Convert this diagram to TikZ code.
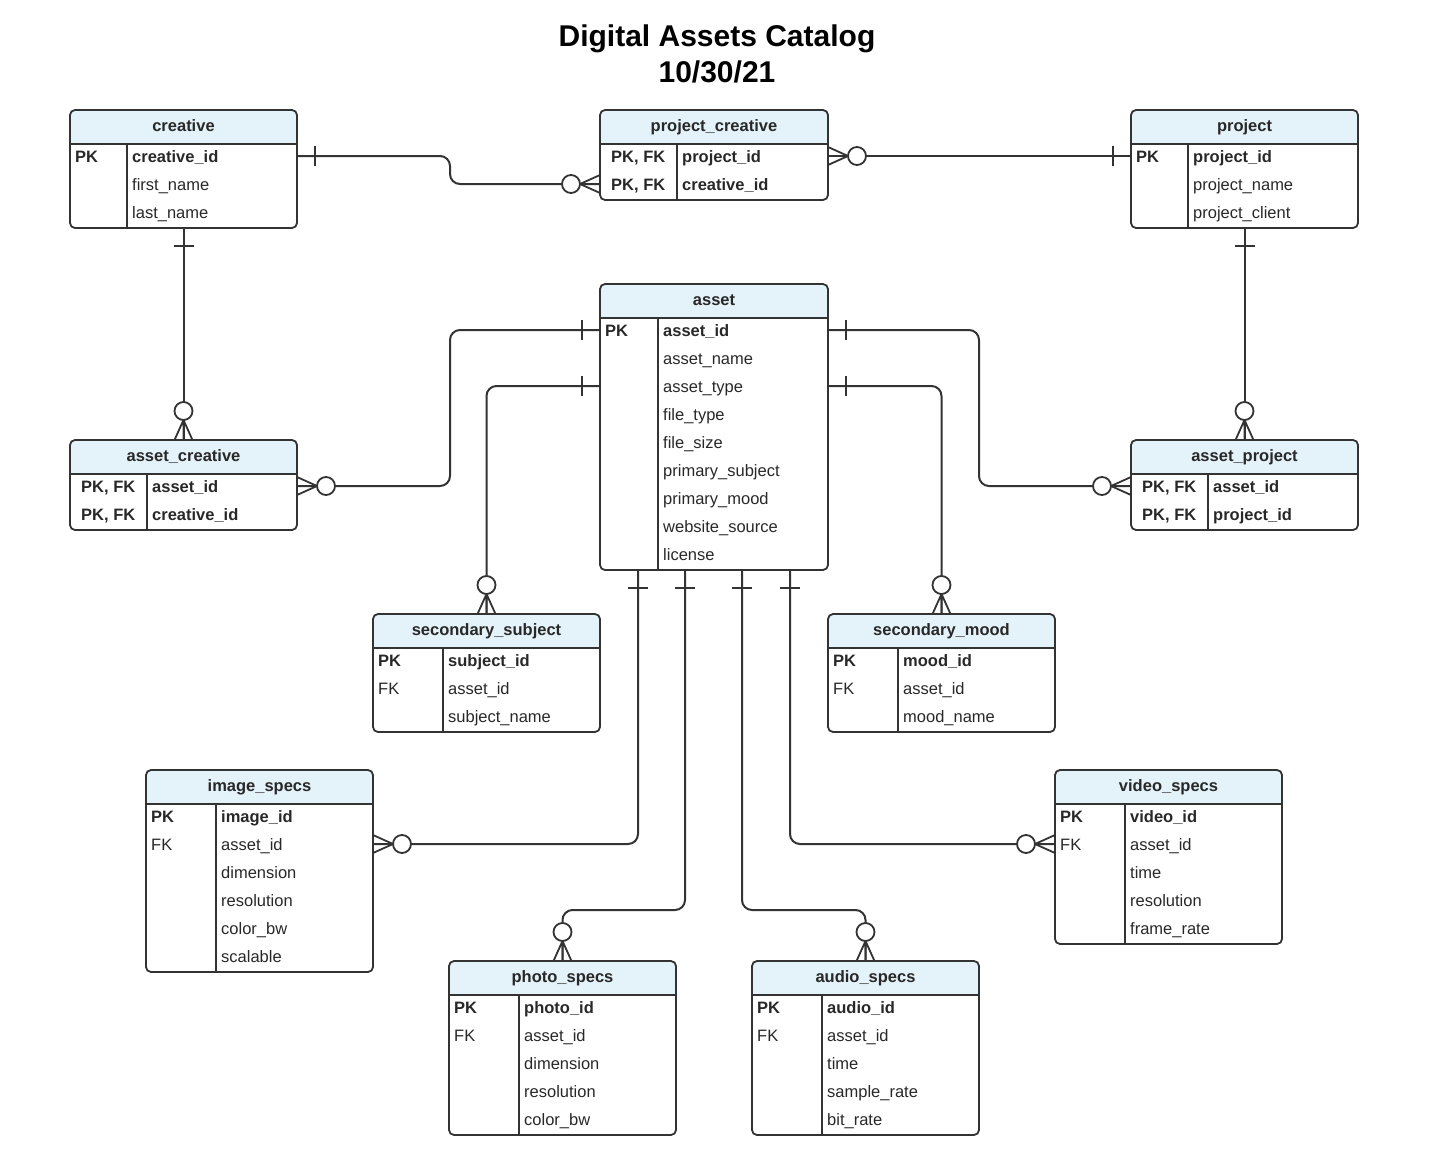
\documentclass[tikz,border=0pt]{standalone}
\usepackage{fontspec}
\setmainfont{Liberation Sans}
\usetikzlibrary{calc}

\definecolor{linegray}{RGB}{51,51,51}
\definecolor{textgray}{RGB}{40,40,40}
\definecolor{headblue}{RGB}{228,242,249}

% name, (x,y), width, key column, rows, title, key offset, rows list
\newcommand{\erdtable}[8]{%
	\node[tblbox, minimum width=#3, minimum height={34+28*#5}, anchor=north west] (#1) at #2 {};
	\fill[headblue] ($(#1.north west)+(0,34)$) [rounded corners=5pt] -- (#1.north west) -- (#1.north east) [sharp corners] -- ($(#1.north east)+(0,34)$) -- cycle;
	\node[headtxt, anchor=base] (#1-head) at ($(#1.north)+(0,21)$) {#6};
	\draw[tblline] ($(#1.north west)+(0,34)$) -- ($(#1.north east)+(0,34)$);
	\draw[tblline] ($(#1.north west)+(#4,34)$) -- ($(#1.south west)+(#4,0)$);
	\draw[tblline, rounded corners=5pt] (#1.north west) rectangle (#1.south east);
	\foreach \s/\k/\f [count=\i] in {#8} {
		\pgfmathsetmacro{\rowy}{46+28*(\i-1)}
		\coordinate (#1-r\i) at ($(#1.north west)+(0,\rowy)$);
		\node[fieldtxt, anchor=base west] (#1-k\i) at ($(#1-r\i)+(#7,6)$) {\s\k};
		\node[fieldtxt, anchor=base west] (#1-f\i) at ($(#1-r\i)+(#4+5,6)$) {\s\f};
	}
}

\begin{document}
\begin{tikzpicture}[x=1pt,y=-1pt,
	tblbox/.style={minimum width=0, outer sep=0pt},
	tblline/.style={draw=linegray, line width=1.8pt},
	headtxt/.style={text=textgray, font=\fontsize{16.5}{20}\selectfont\bfseries},
	fieldtxt/.style={text=textgray, font=\fontsize{16.5}{20}\selectfont},
	titletxt/.style={text=black, font=\fontsize{30}{36}\selectfont\bfseries},
	conn/.style={draw=linegray, line width=2pt, rounded corners=10pt},
	onemark/.pic={\draw[draw=linegray, line width=2pt] (18,-10) -- (18,10);},
	zeromany/.pic={\draw[draw=linegray, line width=1.8pt] (0,-9) -- (20,0) (0,9) -- (20,0) (0,0) -- (20,0);
		\draw[draw=linegray, line width=1.8pt, fill=white] (29,0) circle (9pt);}]
	\tikzstyle{every node}+=[inner sep=0pt]
	\useasboundingbox (0,0) rectangle (1430,1154);

	\node[titletxt, anchor=base] (title) at (717,46) {Digital Assets Catalog};
	\node[titletxt, anchor=base] (date) at (717,82) {10/30/21};

	\erdtable{creative}{(70,110)}{227}{57}{3}{creative}{5}{\bfseries/PK/creative\_id, \mdseries//first\_name, \mdseries//last\_name}
	\erdtable{projcreative}{(600,110)}{228}{77}{2}{project\_creative}{11}{\bfseries/{PK, FK}/project\_id, \bfseries/{PK, FK}/creative\_id}
	\erdtable{project}{(1131,110)}{227}{57}{3}{project}{5}{\bfseries/PK/project\_id, \mdseries//project\_name, \mdseries//project\_client}
	\erdtable{asset}{(600,284)}{228}{58}{9}{asset}{5}{\bfseries/PK/asset\_id, \mdseries//asset\_name, \mdseries//asset\_type, \mdseries//file\_type, \mdseries//file\_size, \mdseries//primary\_subject, \mdseries//primary\_mood, \mdseries//website\_source, \mdseries//license}
	\erdtable{assetcreative}{(70,440)}{227}{77}{2}{asset\_creative}{11}{\bfseries/{PK, FK}/asset\_id, \bfseries/{PK, FK}/creative\_id}
	\erdtable{assetproject}{(1131,440)}{227}{77}{2}{asset\_project}{11}{\bfseries/{PK, FK}/asset\_id, \bfseries/{PK, FK}/project\_id}
	\erdtable{secsubject}{(373,614)}{227}{70}{3}{secondary\_subject}{5}{\bfseries/PK/subject\_id, \mdseries/FK/asset\_id, \mdseries//subject\_name}
	\erdtable{secmood}{(828,614)}{227}{70}{3}{secondary\_mood}{5}{\bfseries/PK/mood\_id, \mdseries/FK/asset\_id, \mdseries//mood\_name}
	\erdtable{imagespecs}{(146,770)}{227}{70}{6}{image\_specs}{5}{\bfseries/PK/image\_id, \mdseries/FK/asset\_id, \mdseries//dimension, \mdseries//resolution, \mdseries//color\_bw, \mdseries//scalable}
	\erdtable{photospecs}{(449,961)}{227}{70}{5}{photo\_specs}{5}{\bfseries/PK/photo\_id, \mdseries/FK/asset\_id, \mdseries//dimension, \mdseries//resolution, \mdseries//color\_bw}
	\erdtable{audiospecs}{(752,961)}{227}{70}{5}{audio\_specs}{5}{\bfseries/PK/audio\_id, \mdseries/FK/asset\_id, \mdseries//time, \mdseries//sample\_rate, \mdseries//bit\_rate}
	\erdtable{videospecs}{(1055,770)}{227}{70}{5}{video\_specs}{5}{\bfseries/PK/video\_id, \mdseries/FK/asset\_id, \mdseries//time, \mdseries//resolution, \mdseries//frame\_rate}

	% relationships
	\draw[conn] (creative.east |- creative-r1) -- ++(153,0) |- (projcreative.west |- projcreative-r2);
	\draw[conn] (projcreative.east |- projcreative-r1) -- (project.west |- project-r1);
	\draw[conn] (creative.south) -- (assetcreative.north);
	\draw[conn] (project.south) -- (assetproject.north);
	\draw[conn] (asset.west |- asset-r1) -- ++(-150,0) |- (assetcreative.east |- assetcreative-r1);
	\draw[conn] (asset.west |- asset-r3) -| (secsubject.north);
	\draw[conn] (asset.east |- asset-r1) -- ++(151,0) |- (assetproject.west |- assetproject-r1);
	\draw[conn] (asset.east |- asset-r3) -| (secmood.north);
	\draw[conn] ([xshift=38pt]asset.south west) |- (imagespecs.east |- imagespecs-r2);
	\draw[conn] ([xshift=85pt]asset.south west) -- ++(0,340) -| (photospecs.north);
	\draw[conn] ([xshift=142pt]asset.south west) -- ++(0,340) -| (audiospecs.north);
	\draw[conn] ([xshift=190pt]asset.south west) |- (videospecs.west |- videospecs-r2);

	% one ends
	\pic[rotate=0] at (creative.east |- creative-r1) {onemark};
	\pic[rotate=180] at (project.west |- project-r1) {onemark};
	\pic[rotate=-90] at (creative.south) {onemark};
	\pic[rotate=-90] at (project.south) {onemark};
	\pic[rotate=180] at (asset.west |- asset-r1) {onemark};
	\pic[rotate=180] at (asset.west |- asset-r3) {onemark};
	\pic[rotate=0] at (asset.east |- asset-r1) {onemark};
	\pic[rotate=0] at (asset.east |- asset-r3) {onemark};
	\foreach \dx in {38,85,142,190}
		\pic[rotate=-90] at ([xshift=\dx pt]asset.south west) {onemark};

	% zero or many ends
	\pic[rotate=180] at (projcreative.west |- projcreative-r2) {zeromany};
	\pic[rotate=0] at (projcreative.east |- projcreative-r1) {zeromany};
	\pic[rotate=90] at (assetcreative.north) {zeromany};
	\pic[rotate=90] at (assetproject.north) {zeromany};
	\pic[rotate=0] at (assetcreative.east |- assetcreative-r1) {zeromany};
	\pic[rotate=180] at (assetproject.west |- assetproject-r1) {zeromany};
	\pic[rotate=90] at (secsubject.north) {zeromany};
	\pic[rotate=90] at (secmood.north) {zeromany};
	\pic[rotate=0] at (imagespecs.east |- imagespecs-r2) {zeromany};
	\pic[rotate=90] at (photospecs.north) {zeromany};
	\pic[rotate=90] at (audiospecs.north) {zeromany};
	\pic[rotate=180] at (videospecs.west |- videospecs-r2) {zeromany};
\end{tikzpicture}
\end{document}
